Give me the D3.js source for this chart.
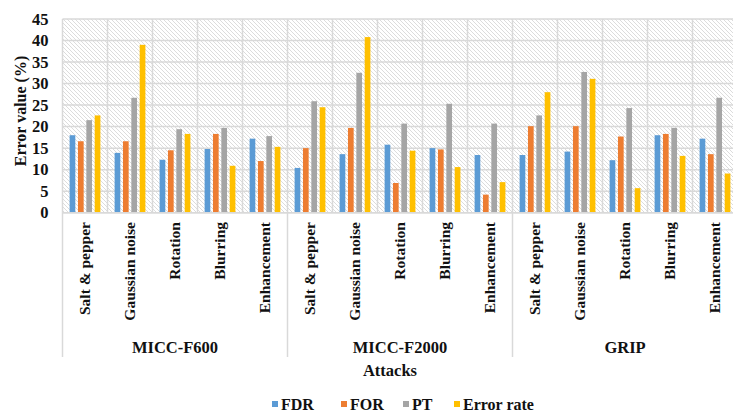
<!DOCTYPE html>
<html><head><meta charset="utf-8">
<script src="https://cdn.jsdelivr.net/npm/d3@7"></script>
<style>body{margin:0;background:#fff}svg{display:block}text{font-family:"Liberation Serif","Times New Roman",serif;font-weight:bold;fill:#111}</style>
</head><body>
<script>
const groups = ["MICC-F600", "MICC-F2000", "GRIP"];
const attacks = ["Salt & pepper", "Gaussian noise", "Rotation", "Blurring", "Enhancement"];
const seriesNames = ["FDR", "FOR", "PT", "Error rate"];
const colors = ["#5B9BD5", "#ED7D31", "#A5A5A5", "#FFC000"];
const FDR = [18.0, 13.9, 12.3, 14.8, 17.2, 10.4, 13.6, 15.8, 15.0, 13.4, 13.4, 14.2, 12.2, 18.0, 17.2];
const FOR = [16.6, 16.6, 14.5, 18.3, 12.0, 15.0, 19.7, 6.9, 14.7, 4.2, 20.1, 20.1, 17.7, 18.3, 13.6];
const PT = [21.5, 26.7, 19.4, 19.7, 17.8, 25.9, 32.5, 20.7, 25.3, 20.7, 22.6, 32.7, 24.3, 19.7, 26.7];
const ErrorRate = [22.6, 39.0, 18.3, 10.9, 15.3, 24.5, 40.8, 14.4, 10.6, 7.1, 28.0, 31.1, 5.7, 13.2, 9.1];
const yTicks = [0, 5, 10, 15, 20, 25, 30, 35, 40, 45];

const W = 733, H = 415;
const svg = d3.select("body").append("svg").attr("width", W).attr("height", H);
const cats = [];
groups.forEach((g, gi) => attacks.forEach((a, ai) => cats.push({key: gi + "|" + a, group: g, attack: a, i: gi * 5 + ai})));
const values = [FDR, FOR, PT, ErrorRate];

const left = 62.5, bandW = 45;
const x0 = d3.scaleBand().domain(cats.map(d => d.key)).range([left, left + bandW * cats.length]).padding(0);
const x1 = d3.scaleBand().domain(seriesNames).range([0, x0.bandwidth()]).paddingInner(0.32).paddingOuter(0.85);
const y = d3.scaleLinear().domain([0, 45]).range([212.7, 19]);

const defs = svg.append("defs");
const pat = defs.append("pattern").attr("id", "hatch").attr("patternUnits", "userSpaceOnUse").attr("width", 4).attr("height", 4);
pat.append("rect").attr("width", 4).attr("height", 4).attr("fill", "#fff");
pat.append("path").attr("d", "M-1,-1 L5,5 M3,-1 L5,1 M-1,3 L1,5").attr("stroke", "#dcdcdc").attr("stroke-width", 1);

const x0min = x0.range()[0], x0max = x0.range()[1];
svg.append("rect").attr("x", x0min).attr("y", y(45)).attr("width", x0max - x0min).attr("height", y(0) - y(45)).attr("fill", "url(#hatch)");

svg.append("g").selectAll("line").data(yTicks).join("line")
  .attr("x1", x0min).attr("x2", x0max).attr("y1", d => y(d)).attr("y2", d => y(d))
  .attr("stroke", "#d9d9d9").attr("stroke-width", 1.5);
svg.append("g").selectAll("line").data(cats).join("line")
  .attr("x1", d => x0(d.key)).attr("x2", d => x0(d.key)).attr("y1", y(45)).attr("y2", y(0))
  .attr("stroke", "#d9d9d9").attr("stroke-width", 1.5);

const cg = svg.append("g").selectAll("g").data(cats).join("g").attr("transform", d => `translate(${x0(d.key)},0)`);
cg.selectAll("rect").data(d => seriesNames.map((s, si) => ({s, si, v: values[si][d.i]}))).join("rect")
  .attr("x", d => x1(d.s)).attr("width", x1.bandwidth())
  .attr("y", d => y(d.v)).attr("height", d => y(0) - y(d.v)).attr("fill", d => colors[d.si]);

const yAxis = d3.axisLeft(y).tickValues(yTicks).tickSize(0).tickPadding(14);
const ya = svg.append("g").attr("transform", `translate(${left},0)`).call(yAxis);
ya.select(".domain").remove();
ya.selectAll("text").style("font-size", "16.5px").style("font-family", "Liberation Serif").style("font-weight", "bold").attr("fill", "#111");

svg.append("text").attr("transform", "translate(20,111) rotate(-90)").attr("text-anchor", "middle").attr("dy", "0.35em")
  .style("font-size", "16px").text("Error value (%)");

svg.append("line").attr("x1", x0min).attr("x2", x0max).attr("y1", y(0)).attr("y2", y(0)).attr("stroke", "#d9d9d9").attr("stroke-width", 1.5);

svg.append("g").selectAll("text").data(cats).join("text")
  .attr("transform", d => `translate(${x0(d.key) + x0.bandwidth() / 2},222) rotate(-90)`)
  .attr("text-anchor", "end").attr("dy", "0.35em").style("font-size", "15.5px").text(d => d.attack);

const gStarts = groups.map((g, gi) => x0(cats[gi * 5].key));
svg.append("g").selectAll("line").data(gStarts).join("line")
  .attr("x1", d => d).attr("x2", d => d).attr("y1", y(0)).attr("y2", 357)
  .attr("stroke", "#d9d9d9").attr("stroke-width", 1.5);
svg.append("g").selectAll("text").data(groups).join("text")
  .attr("x", (g, gi) => gStarts[gi] + bandW * 2.5).attr("y", 347).attr("dy", "0.35em")
  .attr("text-anchor", "middle").style("font-size", "16.5px").text(d => d);

svg.append("text").attr("x", 390).attr("y", 370).attr("dy", "0.35em").attr("text-anchor", "middle").style("font-size", "16.5px").text("Attacks");

const legX = [272, 341, 403, 454];
const lg = svg.append("g").selectAll("g").data(seriesNames).join("g").attr("transform", (d, i) => `translate(${legX[i]},404)`);
lg.append("rect").attr("x", 0).attr("y", -3).attr("width", 6).attr("height", 6).attr("fill", (d, i) => colors[i]);
lg.append("text").attr("x", 9).attr("dy", "0.35em").style("font-size", "16px").text(d => d);
</script>
</body></html>
